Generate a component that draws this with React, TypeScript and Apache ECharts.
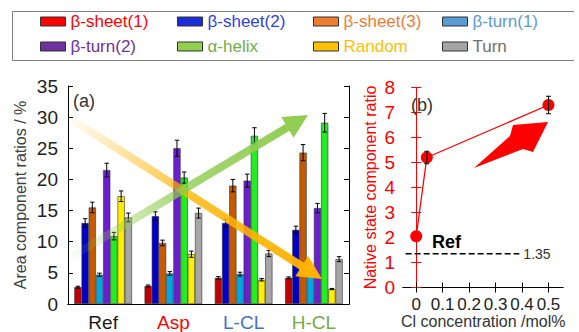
import React, { useEffect, useRef } from "react";
import * as echarts from "echarts";

// ---------- data ----------
const categories = ["Ref", "Asp", "L-CL", "H-CL"];
const categoryColors = ["#1a1a1a", "#ff0000", "#4472c4", "#70ad47"];
const seriesNames = ["β-sheet(1)", "β-sheet(2)", "β-sheet(3)", "β-turn(1)", "β-turn(2)", "α-helix", "Random", "Turn"];

const sheet1 = [2.7, 2.9, 4.2, 4.2];
const sheet2 = [13.0, 14.1, 13.0, 11.9];
const sheet3 = [15.5, 9.8, 19.0, 24.3];
const turn1 = [4.7, 4.9, 4.8, 4.9];
const turn2 = [21.5, 25.0, 19.8, 15.4];
const helix = [10.9, 20.3, 27.0, 29.1];
const random = [17.3, 8.0, 3.9, 2.4];
const turn = [13.9, 14.6, 8.1, 7.2];

const sheet1Err = [0.15, 0.15, 0.2, 0.15];
const sheet2Err = [0.7, 0.7, 0.6, 0.6];
const sheet3Err = [0.85, 0.45, 1.0, 1.3];
const turn1Err = [0.25, 0.3, 0.3, 0.3];
const turn2Err = [1.1, 1.3, 1.05, 0.75];
const helixErr = [0.6, 0.9, 1.3, 1.5];
const randomErr = [0.85, 0.5, 0.2, 0.1];
const turnErr = [0.7, 0.8, 0.5, 0.4];

const barColors = ["#c00000", "#0000c8", "#c55a00", "#00a8e0", "#6a1ed0", "#22ee22", "#ffee00", "#a6a6a6"];
const legendColors = ["#ff0000", "#1a2ed8", "#ed7d31", "#5b9bd5", "#7030a0", "#92d050", "#ffc000", "#a5a5a5"];
const legendTextColors = ["#ff0000", "#2f3fe0", "#ed7d31", "#5b9bd5", "#7030a0", "#70ad47", "#ffc000", "#707070"];

const clConc = [0, 0.04, 0.5];
const nativeRatio = [2.05, 5.2, 7.3];
const nativeErr = [0, 0.25, 0.35];
const refRatio = 1.35;
const clTicks = [0, 0.1, 0.2, 0.3, 0.4, 0.5];
const clTitle = "Cl concentration /mol%";

const values = [sheet1, sheet2, sheet3, turn1, turn2, helix, random, turn];
const errors = [sheet1Err, sheet2Err, sheet3Err, turn1Err, turn2Err, helixErr, randomErr, turnErr];

const GAP = 0.18;
const FONT = "'Liberation Sans', Arial, sans-serif";

function arrowPoints(sx: number, sy: number, ex: number, ey: number, w: number, hw: number, hl: number) {
  const dx = ex - sx, dy = ey - sy;
  const L = Math.sqrt(dx * dx + dy * dy);
  const ux = dx / L, uy = dy / L;
  const nx = -uy, ny = ux;
  const bx = ex - ux * hl, by = ey - uy * hl;
  return [
    [sx + nx * w / 2, sy + ny * w / 2],
    [bx + nx * w / 2, by + ny * w / 2],
    [bx + nx * hw / 2, by + ny * hw / 2],
    [ex, ey],
    [bx - nx * hw / 2, by - ny * hw / 2],
    [bx - nx * w / 2, by - ny * w / 2],
    [sx - nx * w / 2, sy - ny * w / 2],
  ];
}

function fadeArrow(sx: number, sy: number, ex: number, ey: number, color: string) {
  return {
    type: "polygon",
    z: 100,
    shape: { points: arrowPoints(sx, sy, ex, ey, 8, 24, 24) },
    style: {
      fill: {
        type: "linear",
        x: sx, y: sy, x2: ex, y2: ey,
        global: true,
        colorStops: [
          { offset: 0, color: echarts.color.modifyAlpha(color, 0) },
          { offset: 0.5, color: echarts.color.modifyAlpha(color, 0.8) },
          { offset: 1, color: echarts.color.modifyAlpha(color, 1) },
        ],
      },
    },
    silent: true,
  };
}

export default function App() {
  const ref = useRef<HTMLDivElement>(null);
  useEffect(() => {
    document.body.style.margin = "0";
    const chart = echarts.init(ref.current!, null, { renderer: "svg" });

    const barSeries = seriesNames.map((name, i) => ({
      name,
      type: "bar",
      xAxisIndex: 0,
      yAxisIndex: 0,
      barGap: "0%",
      barCategoryGap: GAP * 100 + "%",
      itemStyle: { color: barColors[i], borderColor: "#333", borderWidth: 0.6 },
      data: values[i],
    }));

    const errData: number[][] = [];
    values.forEach((arr, si) => {
      arr.forEach((v, ci) => {
        errData.push([ci, si, v - errors[si][ci], v + errors[si][ci]]);
      });
    });

    const errSeries = {
      name: "errBars",
      type: "custom",
      xAxisIndex: 0,
      yAxisIndex: 0,
      z: 5,
      encode: { x: 0, y: [2, 3] },
      data: errData,
      renderItem: (params: any, api: any) => {
        const ci = api.value(0), si = api.value(1), lo = api.value(2), hi = api.value(3);
        const bandW = api.size([1, 0])[0];
        const groupW = bandW * (1 - GAP);
        const bw = groupW / 8;
        const cx = api.coord([ci, 0])[0] - groupW / 2 + (si + 0.5) * bw;
        const yl = api.coord([ci, lo])[1];
        const yh = api.coord([ci, hi])[1];
        const cap = 2.2;
        const st = { stroke: "#000", lineWidth: 1 };
        return {
          type: "group",
          children: [
            { type: "line", shape: { x1: cx, y1: yl, x2: cx, y2: yh }, style: st },
            { type: "line", shape: { x1: cx - cap, y1: yl, x2: cx + cap, y2: yl }, style: st },
            { type: "line", shape: { x1: cx - cap, y1: yh, x2: cx + cap, y2: yh }, style: st },
          ],
        };
      },
    };

    const nativeErrData = clConc
      .map((x, i) => [x, nativeRatio[i] - nativeErr[i], nativeRatio[i] + nativeErr[i]])
      .filter((d, i) => nativeErr[i] > 0);

    const legends = seriesNames.map((name, i) => ({
      show: true,
      left: [40, 177, 313, 442][i % 4],
      top: i < 4 ? 13 : 38,
      padding: 0,
      icon: "rect",
      itemWidth: 25,
      itemHeight: 9,
      selectedMode: false,
      data: [
        {
          name,
          itemStyle: { color: legendColors[i], borderColor: "#333", borderWidth: 1 },
          textStyle: { color: legendTextColors[i], fontSize: 17, fontFamily: FONT },
        },
      ],
    }));

    const option: any = {
      animation: false,
      textStyle: { fontFamily: FONT },
      legend: legends,
      grid: [
        { left: 68, top: 86, width: 281, height: 221 },
        { left: 403, top: 87.5, width: 160, height: 200 },
      ],
      xAxis: [
        {
          type: "category",
          gridIndex: 0,
          data: categories,
          axisLine: { lineStyle: { color: "#000", width: 1 } },
          axisTick: { inside: true, length: 5, lineStyle: { color: "#000" } },
          axisLabel: {
            fontSize: 19,
            margin: 9,
            color: (v: string) => categoryColors[categories.indexOf(v)],
          },
        },
        {
          type: "category",
          gridIndex: 0,
          position: "top",
          data: categories,
          axisLine: { lineStyle: { color: "#000", width: 1 } },
          axisTick: { inside: true, length: 5, lineStyle: { color: "#000" } },
          axisLabel: { show: false },
        },
        {
          type: "value",
          gridIndex: 1,
          min: -0.05,
          max: 0.555,
          axisLine: { lineStyle: { color: "#000", width: 1 } },
          axisTick: { inside: true, length: 5, customValues: clTicks, lineStyle: { color: "#000" } },
          axisLabel: {
            fontSize: 17,
            color: "#222",
            margin: 8,
            customValues: clTicks,
            formatter: (v: number) => String(Math.round(v * 10) / 10),
          },
          splitLine: { show: false },
        },
        {
          type: "value",
          gridIndex: 1,
          position: "top",
          min: -0.05,
          max: 0.555,
          axisLine: { lineStyle: { color: "#000", width: 1 } },
          axisTick: { inside: true, length: 5, customValues: clTicks, lineStyle: { color: "#000" } },
          axisLabel: { show: false, customValues: clTicks },
          splitLine: { show: false },
        },
      ],
      yAxis: [
        {
          type: "value",
          gridIndex: 0,
          min: 0,
          max: 35,
          interval: 5,
          axisLine: { show: true, lineStyle: { color: "#000", width: 1 } },
          axisTick: { show: true, inside: true, length: 5, lineStyle: { color: "#000" } },
          axisLabel: { fontSize: 19, color: "#222", margin: 10 },
          splitLine: { show: false },
          name: "Area component ratios / %",
          nameLocation: "middle",
          nameRotate: 90,
          nameGap: 40,
          nameTextStyle: { fontSize: 16, color: "#404040" },
        },
        {
          type: "value",
          gridIndex: 0,
          position: "right",
          min: 0,
          max: 35,
          interval: 5,
          axisLine: { show: true, lineStyle: { color: "#000", width: 1 } },
          axisTick: { show: true, inside: true, length: 5, lineStyle: { color: "#000" } },
          axisLabel: { show: false },
          splitLine: { show: false },
        },
        {
          type: "value",
          gridIndex: 1,
          min: 0,
          max: 8,
          interval: 1,
          axisLine: { show: true, lineStyle: { color: "#ff0000", width: 1 } },
          axisTick: { show: true, inside: true, length: 5, lineStyle: { color: "#ff0000" } },
          axisLabel: { fontSize: 19, color: "#ff0000", margin: 8 },
          splitLine: { show: false },
          name: "Native state component ratio",
          nameLocation: "middle",
          nameRotate: 90,
          nameGap: 25,
          nameTextStyle: { fontSize: 16, color: "#ff0000" },
        },
        {
          type: "value",
          gridIndex: 1,
          position: "right",
          min: 0,
          max: 8,
          interval: 1,
          axisLine: { show: true, lineStyle: { color: "#ff0000", width: 1 } },
          axisTick: { show: true, inside: true, length: 5, lineStyle: { color: "#ff0000" } },
          axisLabel: { show: false },
          splitLine: { show: false },
        },
      ],
      series: [
        ...barSeries,
        errSeries,
        {
          name: "Native",
          type: "line",
          xAxisIndex: 2,
          yAxisIndex: 2,
          data: clConc.map((x, i) => [x, nativeRatio[i]]),
          symbol: "circle",
          symbolSize: 12,
          lineStyle: { color: "#ff0000", width: 1.3 },
          itemStyle: { color: "#ff0000" },
          z: 4,
        },
        {
          name: "NativeErr",
          type: "custom",
          xAxisIndex: 2,
          yAxisIndex: 2,
          z: 5,
          encode: { x: 0, y: [1, 2] },
          data: nativeErrData,
          renderItem: (params: any, api: any) => {
            const p1 = api.coord([api.value(0), api.value(1)]);
            const p2 = api.coord([api.value(0), api.value(2)]);
            const cap = 2.5;
            const st = { stroke: "#000", lineWidth: 1 };
            return {
              type: "group",
              children: [
                { type: "line", shape: { x1: p1[0], y1: p1[1], x2: p2[0], y2: p2[1] }, style: st },
                { type: "line", shape: { x1: p1[0] - cap, y1: p1[1], x2: p1[0] + cap, y2: p1[1] }, style: st },
                { type: "line", shape: { x1: p2[0] - cap, y1: p2[1], x2: p2[0] + cap, y2: p2[1] }, style: st },
              ],
            };
          },
        },
        {
          name: "RefLine",
          type: "line",
          xAxisIndex: 2,
          yAxisIndex: 2,
          data: [
            [-0.04, refRatio],
            {
              value: [0.39, refRatio],
              label: { show: true, position: "right", distance: 4, formatter: String(refRatio), fontSize: 14, color: "#333" },
            },
          ],
          symbol: "circle",
          symbolSize: 0,
          lineStyle: { color: "#000", width: 1.5, type: [6, 3] },
          itemStyle: { color: "#000" },
        },
      ],
      graphic: [
        {
          type: "polyline",
          z: 100,
          shape: { points: [[574, 11.5], [12.5, 11.5], [12.5, 60.5], [574, 60.5]] },
          style: { stroke: "#808080", lineWidth: 1, fill: null },
        },
        fadeArrow(66, 116, 322, 279, "#ffb300"),
        fadeArrow(66, 260, 308, 115, "#8fcc50"),
        {
          type: "polygon",
          z: 100,
          shape: { points: [[474, 168], [510, 136], [513, 125], [548, 122], [533, 152], [523, 149]] },
          style: { fill: "#ff0000" },
        },
        { type: "text", z: 100, left: 73, top: 92, style: { text: "(a)", fontSize: 18, fill: "#333", fontFamily: FONT } },
        { type: "text", z: 100, left: 411, top: 96, style: { text: "(b)", fontSize: 18, fill: "#333", fontFamily: FONT } },
        { type: "text", z: 100, left: 432, top: 233, style: { text: "Ref", fontSize: 18, fontWeight: "bold", fill: "#000", fontFamily: FONT } },
        { type: "text", z: 100, left: 401, top: 313, style: { text: clTitle, fontSize: 16, fill: "#333", fontFamily: FONT } },
      ],
    };
    chart.setOption(option);
    return () => chart.dispose();
  }, []);
  return <div ref={ref} style={{ width: 579, height: 332 }} />;
}
